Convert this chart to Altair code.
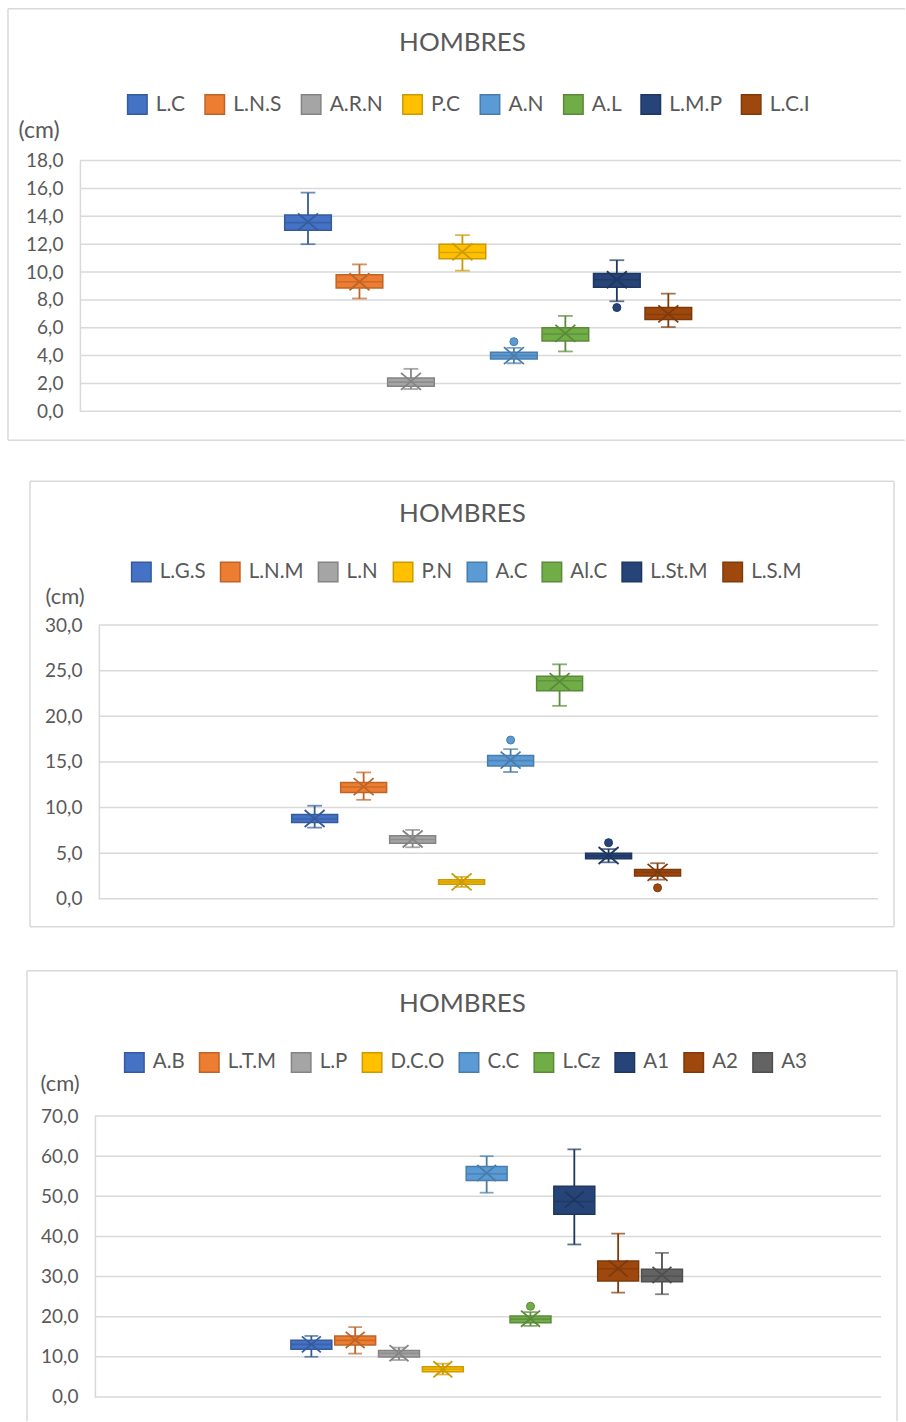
import altair as alt
import pandas as pd

FONT = "Lato"
TEXT = "#595959"
GRID = "#d9d9d9"
PAGE_W = 906

# Office palette: fills and the darker shade used for outlines, medians, whiskers and means
COLORS = ["#4472C4", "#ED7D31", "#A5A5A5", "#FFC000", "#5B9BD5",
          "#70AD47", "#264478", "#9E480E", "#636363"]
DARKS = ["#365B9D", "#BE6427", "#848484", "#CC9A00", "#497CAA",
         "#5A8A39", "#1E3660", "#7E3A0B", "#4F4F4F"]

TITLE = "HOMBRES"
UNIT = "(cm)"

# ---------- block 1 ----------
cats1 = ["L.C", "L.N.S", "A.R.N", "P.C", "A.N", "A.L", "L.M.P", "L.C.I"]
lo1 = [12.0, 8.1, 1.6, 10.1, 3.45, 4.3, 7.9, 6.05]
q1_1 = [13.0, 8.85, 1.8, 10.95, 3.75, 5.05, 8.9, 6.6]
med1 = [13.55, 9.3, 2.1, 11.4, 4.0, 5.55, 9.45, 6.95]
q3_1 = [14.1, 9.8, 2.4, 12.0, 4.25, 6.0, 9.9, 7.45]
hi1 = [15.7, 10.55, 3.05, 12.65, 4.55, 6.85, 10.85, 8.45]
mean1 = [13.6, 9.3, 2.15, 11.45, 4.0, 5.6, 9.45, 7.0]
out_cat1 = ["A.N", "L.M.P"]
out_val1 = [5.0, 7.45]
ticks1 = [0, 2, 4, 6, 8, 10, 12, 14, 16, 18]

# ---------- block 2 ----------
cats2 = ["L.G.S", "L.N.M", "L.N", "P.N", "A.C", "Al.C", "L.St.M", "L.S.M"]
lo2 = [7.8, 10.85, 5.65, 1.3, 13.9, 21.15, 4.0, 2.1]
q1_2 = [8.35, 11.65, 6.1, 1.6, 14.55, 22.8, 4.4, 2.5]
med2 = [8.75, 12.25, 6.5, 1.85, 15.15, 23.9, 4.7, 2.9]
q3_2 = [9.25, 12.75, 6.9, 2.1, 15.7, 24.4, 5.0, 3.2]
hi2 = [10.2, 13.85, 7.55, 2.4, 16.4, 25.7, 5.45, 3.9]
mean2 = [8.8, 12.3, 6.55, 1.85, 15.2, 23.8, 4.75, 2.9]
out_cat2 = ["A.C", "L.St.M", "L.S.M"]
out_val2 = [17.4, 6.15, 1.2]
ticks2 = [0, 5, 10, 15, 20, 25, 30]

# ---------- block 3 ----------
cats3 = ["A.B", "L.T.M", "L.P", "D.C.O", "C.C", "L.Cz", "A1", "A2", "A3"]
lo3 = [10.0, 10.8, 9.2, 5.6, 50.9, 17.7, 38.0, 26.0, 25.6]
q1_3 = [11.9, 12.95, 9.95, 6.3, 53.95, 18.5, 45.5, 28.9, 28.7]
med3 = [13.1, 14.1, 10.85, 6.9, 55.6, 19.4, 48.7, 31.95, 30.1]
q3_3 = [14.1, 15.2, 11.55, 7.55, 57.4, 20.15, 52.5, 33.85, 31.8]
hi3 = [15.2, 17.4, 12.3, 8.3, 60.0, 21.15, 61.7, 40.7, 35.9]
mean3 = [13.1, 14.2, 10.9, 6.9, 55.8, 19.5, 49.2, 32.0, 30.4]
out_cat3 = ["L.Cz"]
out_val3 = [22.6]
ticks3 = [0, 10, 20, 30, 40, 50, 60, 70]

# "X" symbol for the mean
X_SHAPE = "M-1,-0.85L1,0.85M-1,0.85L1,-0.85"


def frame_side(x0, x1, y0, y1):
    return alt.Chart(pd.DataFrame({"k": [0]})).mark_rule(
        color=GRID, strokeWidth=1.5
    ).encode(x=alt.value(x0), x2=alt.value(x1), y=alt.value(y0), y2=alt.value(y1))


def panel(top, height, cats, lo, q1, med, q3, hi, mean, out_cat, out_val, ticks, g):
    n = len(cats)
    df = pd.DataFrame({"cat": cats, "lo": lo, "q1": q1, "med": med,
                       "q3": q3, "hi": hi, "mean": mean})
    outl = pd.DataFrame({"cat": out_cat, "val": out_val})
    grid = pd.DataFrame({"tick": ticks})

    ys = alt.Scale(domain=[ticks[0], ticks[-1]],
                   range=[g["y0"] - top, g["y1"] - top], nice=False, zero=False)
    xs = alt.Scale(domain=cats, range=[g["bx0"], g["bx1"]],
                   paddingInner=g["pin"], paddingOuter=0)
    X = alt.X("cat:N", scale=xs, axis=None)

    leg = alt.Legend(orient="none", legendX=g["lx"], legendY=g["ly"] - top,
                     direction="horizontal", title=None, symbolType="square",
                     symbolSize=380, symbolStrokeWidth=1.5, labelFont=FONT,
                     labelFontSize=g["lfs"], labelColor=TEXT, labelOffset=8,
                     columnPadding=g["lcp"], padding=0)
    fill = alt.Fill("cat:N", scale=alt.Scale(domain=cats, range=COLORS[:n]), legend=leg)
    stroke = alt.Stroke("cat:N", scale=alt.Scale(domain=cats, range=DARKS[:n]), legend=leg)

    yaxis = alt.Axis(values=ticks, labelExpr="replace(format(datum.value, '.1f'), '.', ',')",
                     ticks=False, grid=False, domainColor=GRID, domainWidth=1.5,
                     labelPadding=17, labelFlush=False, labelFont=FONT, labelFontSize=19,
                     labelColor=TEXT, offset=-g["px0"], title=UNIT, titleAngle=0,
                     titleX=g["cx"] - g["px0"], titleY=g["cy"] - top, titleAlign="left",
                     titleBaseline="middle", titleFont=FONT, titleFontSize=g["cfs"],
                     titleFontWeight="normal", titleColor=TEXT)

    def Y(f):
        return alt.Y(f + ":Q", scale=ys, axis=yaxis)

    layers = [frame_side(*s[:2], s[2] - top, s[3] - top) for s in g["frame"]]

    layers.append(alt.Chart(grid).mark_rule(color=GRID, strokeWidth=1.5).encode(
        y=Y("tick"), x=alt.value(g["px0"]), x2=alt.value(g["px1"])))

    base = alt.Chart(df)
    # whiskers
    layers.append(base.mark_rule(strokeWidth=1.8).encode(
        x=X, y=Y("q3"), y2="hi:Q", stroke=stroke))
    layers.append(base.mark_rule(strokeWidth=1.8).encode(
        x=X, y=Y("lo"), y2="q1:Q", stroke=stroke))
    # boxes
    layers.append(base.mark_bar(strokeWidth=1.5).encode(
        x=X, y=Y("q1"), y2="q3:Q", fill=fill, stroke=stroke))
    # whisker caps
    for f in ("hi", "lo"):
        layers.append(base.mark_tick(size=g["cap"], thickness=0.01, filled=False,
                                     strokeWidth=1.8).encode(x=X, y=Y(f), stroke=stroke))
    # median
    layers.append(base.mark_tick(size=g["bw"] - 3, thickness=0.01, filled=False,
                                 strokeWidth=1.6).encode(x=X, y=Y("med"), stroke=stroke))
    # mean marker
    layers.append(base.mark_point(shape=X_SHAPE, filled=False, size=g["xs"],
                                  strokeWidth=1.8, opacity=1).encode(
        x=X, y=Y("mean"), stroke=stroke))
    # outliers
    layers.append(alt.Chart(outl).mark_circle(size=64, opacity=1, strokeWidth=1).encode(
        x=X, y=Y("val"), fill=fill, stroke=stroke))

    layers.append(alt.Chart(pd.DataFrame({"t": [TITLE]})).mark_text(
        font=FONT, fontSize=26, color=TEXT, align="center", baseline="middle"
    ).encode(text="t:N", x=alt.value(g["tx"]), y=alt.value(g["ty"] - top)))

    return alt.layer(*layers).properties(width=PAGE_W, height=height)


g1 = dict(y0=411, y1=160, px0=80, px1=902, bx0=285, bx1=692.4, pin=0.094, bw=46.7,
          cap=13, xs=400, lx=127, ly=93, lfs=21, lcp=15.5, cx=18, cy=130, cfs=23,
          tx=463, ty=42,
          frame=[(8, 8, 8, 440), (8, 906, 8, 8), (8, 906, 440, 440)])
g2 = dict(y0=899, y1=625, px0=99, px1=879, bx0=292, bx1=681.3, pin=0.062, bw=46,
          cap=13, xs=400, lx=131, ly=561, lfs=20.5, lcp=11, cx=45, cy=596, cfs=22,
          tx=463, ty=514,
          frame=[(30, 30, 481, 927), (30, 895, 481, 481), (895, 895, 481, 927),
                 (30, 895, 927, 927)])
g3 = dict(y0=1397.7, y1=1116.5, px0=95, px1=882, bx0=291.2, bx1=683.2, pin=0.066, bw=41,
          cap=12, xs=360, lx=124, ly=1052, lfs=20.5, lcp=11, cx=40, cy=1084, cfs=22,
          tx=463, ty=1004,
          frame=[(27, 27, 971, 1422), (27, 898, 971, 971), (898, 898, 971, 1422)])

p1 = panel(0, 461, cats1, lo1, q1_1, med1, q3_1, hi1, mean1, out_cat1, out_val1, ticks1, g1)
p2 = panel(461, 489, cats2, lo2, q1_2, med2, q3_2, hi2, mean2, out_cat2, out_val2, ticks2, g2)
p3 = panel(950, 472, cats3, lo3, q1_3, med3, q3_3, hi3, mean3, out_cat3, out_val3, ticks3, g3)

chart = alt.vconcat(p1, p2, p3, spacing=0).resolve_scale(
    fill="independent", stroke="independent"
).resolve_legend(
    fill="independent", stroke="independent"
).properties(
    padding=0, background="white"
).configure_view(stroke=None)

chart.save("out.html", embed_options={"renderer": "svg", "actions": False})
